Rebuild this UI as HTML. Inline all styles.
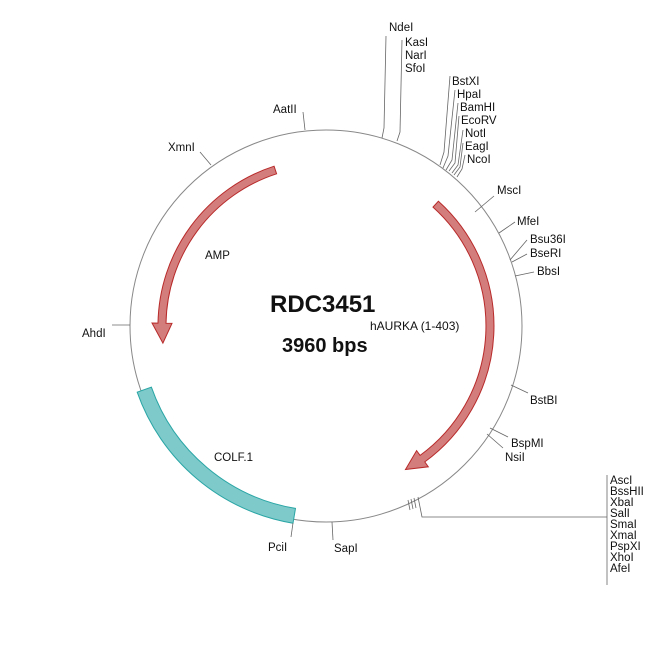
<!DOCTYPE html>
<html><head><meta charset="utf-8"><style>
html,body{margin:0;padding:0;background:#fff;}
svg{display:block;font-family:"Liberation Sans",Arial,sans-serif;}
text{font-size:11.5px;fill:#111;}
</style></head><body>
<svg width="650" height="650" viewBox="0 0 650 650" xmlns="http://www.w3.org/2000/svg">
<circle cx="326" cy="326" r="196" fill="none" stroke="#888" stroke-width="1"/>
<!-- AMP -->
<path d="M274.1,166.2 A168,168 0 0 0 158.0,323.1 L152.0,323.0 L162.9,343.1 L172.0,323.3 L166.0,323.2 A160,160 0 0 1 276.6,173.8 Z" fill="#d47d7d" stroke="#b82a2a" stroke-width="1"/>
<!-- hAURKA -->
<path d="M438.4,201.2 A168,168 0 0 1 424.8,461.9 L428.3,466.8 L405.5,469.5 L416.6,450.6 L420.1,455.4 A160,160 0 0 0 433.0,207.1 Z" fill="#d47d7d" stroke="#b82a2a" stroke-width="1"/>
<!-- COLF1 -->
<path d="M137.2,392.2 A200,200 0 0 0 293.0,523.2 L295.5,508.4 A185,185 0 0 1 151.4,387.2 Z" fill="#7ecaca" stroke="#2aa5a5" stroke-width="1"/>
<g stroke="#666" stroke-width="0.8" fill="none">
<polyline points="303,112 305,130"/>
<polyline points="200,152 211,165"/>
<polyline points="112,325 130,325"/>
<polyline points="293,523 291,537"/>
<polyline points="332,522 333,540"/>
<polyline points="386,36 384,128 382,138"/>
<polyline points="402,40 400,132 397,141"/>
<polyline points="450,76 444,152 440,165"/>
<polyline points="455,90 448,156 443,168"/>
<polyline points="458,103 452,160 446,170"/>
<polyline points="459,116 455,163 449,171"/>
<polyline points="463,130 458,165 452,173"/>
<polyline points="463,143 460,167 454,175"/>
<polyline points="465,155 462,169 457,177"/>
<polyline points="475,212 494,196"/>
<polyline points="499,233 515,222"/>
<polyline points="510,260 527,240"/>
<polyline points="512,262 527,254"/>
<polyline points="515,276 534,272"/>
<polyline points="511,385 528,393"/>
<polyline points="490,428 508,437"/>
<polyline points="487,434 503,448"/>
<polyline points="408,500 410,510"/>
<polyline points="411,499 413,509"/>
<polyline points="414,498 416,508"/>
<polyline points="418,497 422,517 607,517"/>
<polyline points="607,475 607,585"/>
</g>
<text x="273" y="113">AatII</text>
<text x="168" y="151">XmnI</text>
<text x="82" y="337">AhdI</text>
<text x="205" y="259">AMP</text>
<text x="214" y="461">COLF.1</text>
<text x="268" y="551">PciI</text>
<text x="334" y="552">SapI</text>
<text x="389" y="31">NdeI</text>
<text x="405" y="46">KasI</text>
<text x="405" y="59">NarI</text>
<text x="405" y="72">SfoI</text>
<text x="452" y="85">BstXI</text>
<text x="457" y="98">HpaI</text>
<text x="460" y="111">BamHI</text>
<text x="461" y="124">EcoRV</text>
<text x="465" y="137">NotI</text>
<text x="465" y="150">EagI</text>
<text x="467" y="163">NcoI</text>
<text x="497" y="194">MscI</text>
<text x="517" y="225">MfeI</text>
<text x="530" y="243">Bsu36I</text>
<text x="530" y="257">BseRI</text>
<text x="537" y="275">BbsI</text>
<text x="530" y="404">BstBI</text>
<text x="511" y="447">BspMI</text>
<text x="505" y="461">NsiI</text>
<text x="610" y="484">AscI</text>
<text x="610" y="495">BssHII</text>
<text x="610" y="506">XbaI</text>
<text x="610" y="517">SalI</text>
<text x="610" y="528">SmaI</text>
<text x="610" y="539">XmaI</text>
<text x="610" y="550">PspXI</text>
<text x="610" y="561">XhoI</text>
<text x="610" y="572">AfeI</text>
<text x="270" y="312" style="font-size:24px;font-weight:bold">RDC3451</text>
<text x="370" y="330" style="font-size:12px">hAURKA (1-403)</text>
<text x="282" y="352" style="font-size:20px;font-weight:bold">3960 bps</text>
</svg>
</body></html>
